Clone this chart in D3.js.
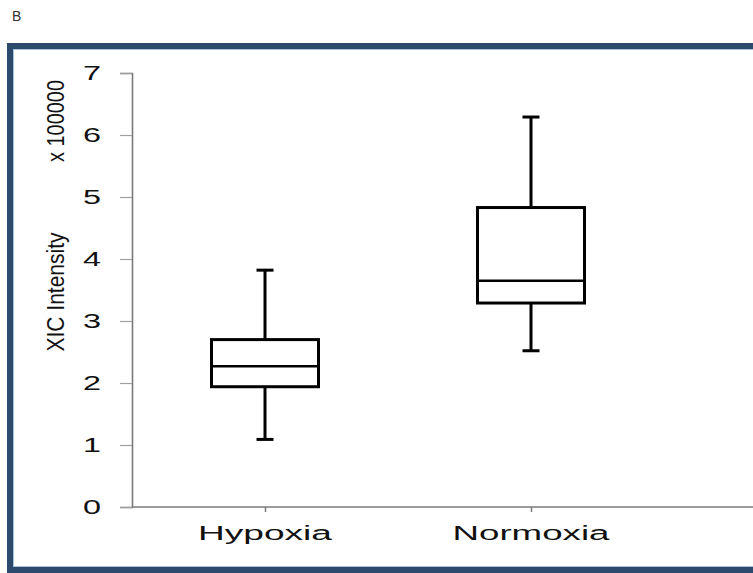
<!DOCTYPE html>
<html>
<head>
<meta charset="utf-8">
<script src="https://cdn.jsdelivr.net/npm/d3@7"></script>
<style>
  body { margin: 0; background: #ffffff; }
  svg { display: block; }
</style>
</head>
<body>
<div id="chart"></div>
<script>
// ---- data (units x 100000) ----
const categories = ["Hypoxia", "Normoxia"];
const whiskerLow = [1.09, 2.52];
const q1 = [1.94, 3.29];
const median = [2.27, 3.65];
const q3 = [2.70, 4.83];
const whiskerHigh = [3.82, 6.29];
const yTicks = [0, 1, 2, 3, 4, 5, 6, 7];

const width = 753, height = 573;
const boxWidth = 107, capWidth = 17;

const svg = d3.select("#chart").append("svg")
  .attr("width", width)
  .attr("height", height);

// panel letter
svg.append("text")
  .attr("x", 12).attr("y", 21)
  .style("font-family", "Liberation Sans, Arial, sans-serif")
  .style("font-size", "14px")
  .style("fill", "#333")
  .text("B");

// dark frame
svg.append("rect")
  .attr("x", 10).attr("y", 46)
  .attr("width", 760).attr("height", 524)
  .style("fill", "none")
  .style("stroke", "#2c4a6c")
  .style("stroke-width", 6);
svg.append("rect")
  .attr("x", 13.5).attr("y", 49.5)
  .attr("width", 760).attr("height", 517)
  .style("fill", "none")
  .style("stroke", "#a9c4e0")
  .style("stroke-width", 1);

const y = d3.scaleLinear().domain([0, 7]).range([507, 73]);
const x = d3.scalePoint().domain(categories).range([132, 664]).padding(0.5);

// ---- y axis ----
const yAxis = svg.append("g")
  .attr("transform", "translate(132,0)")
  .call(d3.axisLeft(y).tickValues(yTicks).tickSize(12).tickPadding(19).tickFormat(d3.format("d")));
yAxis.select(".domain").style("stroke", "#7a7a7a").style("stroke-width", 1.6);
yAxis.selectAll(".tick line").style("stroke", "#a0a0a0").style("stroke-width", 1.2);
yAxis.selectAll(".tick text")
  .attr("textLength", 18)
  .attr("lengthAdjust", "spacingAndGlyphs")
  .style("font-family", "Liberation Sans, Arial, sans-serif")
  .style("font-size", "20px")
  .style("fill", "#111");

// ---- x axis ----
const xAxis = svg.append("g")
  .attr("transform", "translate(0,507)")
  .call(d3.axisBottom(x).tickSize(5).tickFormat(""));
xAxis.select(".domain").remove();
xAxis.selectAll(".tick line").style("stroke", "#7a7a7a").style("stroke-width", 1.5);
svg.append("line")
  .attr("x1", 132).attr("x2", width)
  .attr("y1", y(0)).attr("y2", y(0))
  .style("stroke", "#7a7a7a")
  .style("stroke-width", 1.6);

const labelLen = { Hypoxia: 134, Normoxia: 157 };
svg.selectAll("text.cat")
  .data(categories)
  .enter().append("text")
  .attr("class", "cat")
  .attr("x", d => x(d))
  .attr("y", 540)
  .attr("text-anchor", "middle")
  .attr("textLength", d => labelLen[d])
  .attr("lengthAdjust", "spacingAndGlyphs")
  .style("font-family", "Liberation Sans, Arial, sans-serif")
  .style("font-size", "20px")
  .style("fill", "#111")
  .text(d => d);

// ---- y title ----
svg.append("text")
  .attr("transform", "translate(64,292) rotate(-90)")
  .attr("text-anchor", "middle")
  .attr("textLength", 119)
  .attr("lengthAdjust", "spacingAndGlyphs")
  .style("font-family", "Liberation Sans Narrow, Liberation Sans, Arial, sans-serif")
  .style("font-size", "23px")
  .style("fill", "#111")
  .text("XIC Intensity");
svg.append("text")
  .attr("transform", "translate(64,121) rotate(-90)")
  .attr("text-anchor", "middle")
  .attr("textLength", 82)
  .attr("lengthAdjust", "spacingAndGlyphs")
  .style("font-family", "Liberation Sans Narrow, Liberation Sans, Arial, sans-serif")
  .style("font-size", "23px")
  .style("fill", "#111")
  .text("x 100000");

// ---- boxes ----
const boxes = categories.map((c, i) => ({
  c, lo: whiskerLow[i], q1: q1[i], med: median[i], q3: q3[i], hi: whiskerHigh[i]
}));

const g = svg.selectAll("g.box").data(boxes).enter().append("g").attr("class", "box");
const ink = sel => sel.style("stroke", "#000").style("stroke-width", 3).style("fill", "none");

// whiskers
g.append("line").attr("x1", d => x(d.c)).attr("x2", d => x(d.c))
  .attr("y1", d => y(d.q3)).attr("y2", d => y(d.hi)).call(ink);
g.append("line").attr("x1", d => x(d.c)).attr("x2", d => x(d.c))
  .attr("y1", d => y(d.q1)).attr("y2", d => y(d.lo)).call(ink);
// caps
g.append("line").attr("x1", d => x(d.c) - capWidth / 2).attr("x2", d => x(d.c) + capWidth / 2)
  .attr("y1", d => y(d.hi)).attr("y2", d => y(d.hi)).call(ink);
g.append("line").attr("x1", d => x(d.c) - capWidth / 2).attr("x2", d => x(d.c) + capWidth / 2)
  .attr("y1", d => y(d.lo)).attr("y2", d => y(d.lo)).call(ink);
// box
g.append("rect")
  .attr("x", d => x(d.c) - boxWidth / 2)
  .attr("y", d => y(d.q3))
  .attr("width", boxWidth)
  .attr("height", d => y(d.q1) - y(d.q3))
  .call(ink);
// median
g.append("line").attr("x1", d => x(d.c) - boxWidth / 2).attr("x2", d => x(d.c) + boxWidth / 2)
  .attr("y1", d => y(d.med)).attr("y2", d => y(d.med)).call(ink)
  .style("stroke-width", 2.5);
</script>
</body>
</html>
